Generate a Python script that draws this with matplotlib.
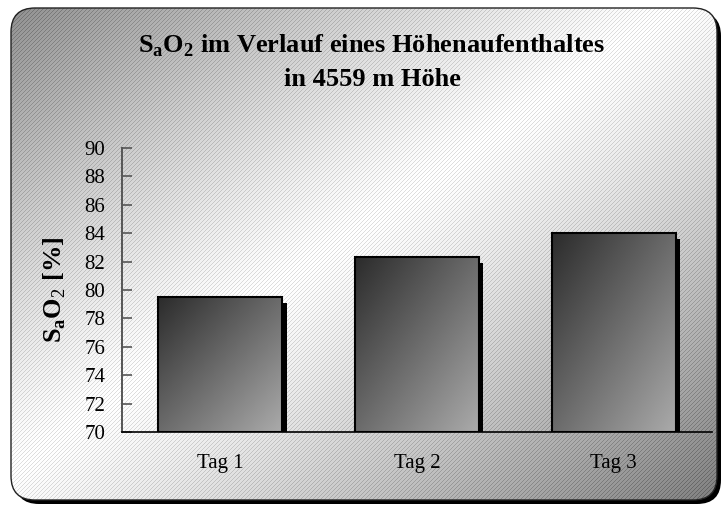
import numpy as np
import matplotlib
matplotlib.use("Agg")
import matplotlib.pyplot as plt
from matplotlib.patches import FancyBboxPatch
import matplotlib.transforms as mtransforms

plt.rcParams["font.family"] = ["Liberation Serif", "DejaVu Serif"]
plt.rcParams["mathtext.fontset"] = "custom"
plt.rcParams["mathtext.rm"] = "Liberation Serif"
plt.rcParams["mathtext.bf"] = "Liberation Serif:bold"

days = ["Tag 1", "Tag 2", "Tag 3"]
sao2 = [79.5, 82.3, 84.0]
yticks = list(range(70, 91, 2))

W, H = 725, 507
fig = plt.figure(figsize=(W / 100, H / 100), dpi=100)

# background panel in pixel coordinates
bg = fig.add_axes([0, 0, 1, 1], zorder=0)
bg.set_xlim(0, W)
bg.set_ylim(H, 0)
bg.axis("off")

L, T, FW, FH = 11, 8, 706, 492
shadow = FancyBboxPatch((L + 4, T + 4), FW, FH, boxstyle="round,pad=0,rounding_size=24",
                        facecolor="black", edgecolor="none")
bg.add_patch(shadow)
frame = FancyBboxPatch((L, T), FW, FH, boxstyle="round,pad=0,rounding_size=24",
                       facecolor="white", edgecolor="none")
bg.add_patch(frame)

# diagonal grey-white-grey shading with fine stripes
px, py = np.meshgrid(np.arange(FW), np.arange(FH))
t = (px / FW + py / FH) / 2
d = np.abs(t - 0.47) / 0.53
val = 1 - 0.5 * d ** 1.2
val = val - 0.13 * ((px + py) % 4 == 0)
img = bg.imshow(val, cmap="gray", vmin=0, vmax=1, extent=(L, L + FW, T + FH, T),
                aspect="auto", interpolation="nearest", zorder=1)
img.set_clip_path(frame)
border = FancyBboxPatch((L, T), FW, FH, boxstyle="round,pad=0,rounding_size=24",
                        facecolor="none", edgecolor="#222222", linewidth=1.0, zorder=3)
bg.add_patch(border)

# main chart
ax = fig.add_axes([122 / W, 1 - 432 / H, 590 / W, 284 / H], zorder=1)
ax.patch.set_alpha(0)
x = np.arange(len(days))
width = 0.63

# drop shadows
shift = mtransforms.offset_copy(ax.transData, fig=fig, x=4.5, y=-5.5, units="dots")
ax.bar(x, [v - 70 for v in sao2], width, bottom=70, color="black",
       transform=shift, zorder=1)

bars = ax.bar(x, [v - 70 for v in sao2], width, bottom=70, facecolor="none",
              edgecolor="black", linewidth=1.5, zorder=3)

gx, gy = np.meshgrid(np.linspace(0, 1, 200), np.linspace(0, 1, 200))
grad = 0.17 + 0.5 * (gx + gy) / 2
for b in bars:
    x0, y0, bw, bh = b.get_x(), b.get_y(), b.get_width(), b.get_height()
    im = ax.imshow(grad, cmap="gray", vmin=0, vmax=1, extent=(x0, x0 + bw, y0, y0 + bh),
                   origin="upper", aspect="auto", interpolation="bilinear", zorder=2)
    im.set_clip_path(b)

ax.set_xlim(-0.5, 2.5)
ax.set_ylim(70, 90)
ax.set_yticks(yticks)
ax.set_xticks(x)
ax.set_xticklabels(days)
ax.tick_params(axis="y", direction="in", length=7, width=1.2, color="#555555",
               labelsize=15, pad=12)
ax.tick_params(axis="x", length=0, labelsize=15, pad=16)
for s in ["top", "right"]:
    ax.spines[s].set_visible(False)
ax.spines["left"].set_color("#555555")
ax.spines["left"].set_linewidth(1.4)
ax.spines["bottom"].set_color("black")
ax.spines["bottom"].set_linewidth(1.2)

fig.text(372 / W, 1 - 46 / H, r"S$_\mathbf{a}$O$_\mathbf{2}$ im Verlauf eines Höhenaufenthaltes",
         ha="center", va="center", fontsize=19, fontweight="bold")
fig.text(372 / W, 1 - 79 / H, "in 4559 m Höhe", ha="center", va="center",
         fontsize=19, fontweight="bold")
fig.text(55 / W, 1 - 290 / H, r"S$_\mathbf{a}$O$_\mathrm{2}$ [%]", ha="center", va="center",
         rotation=90, fontsize=19, fontweight="bold")

fig.savefig("out.png", dpi=100)
